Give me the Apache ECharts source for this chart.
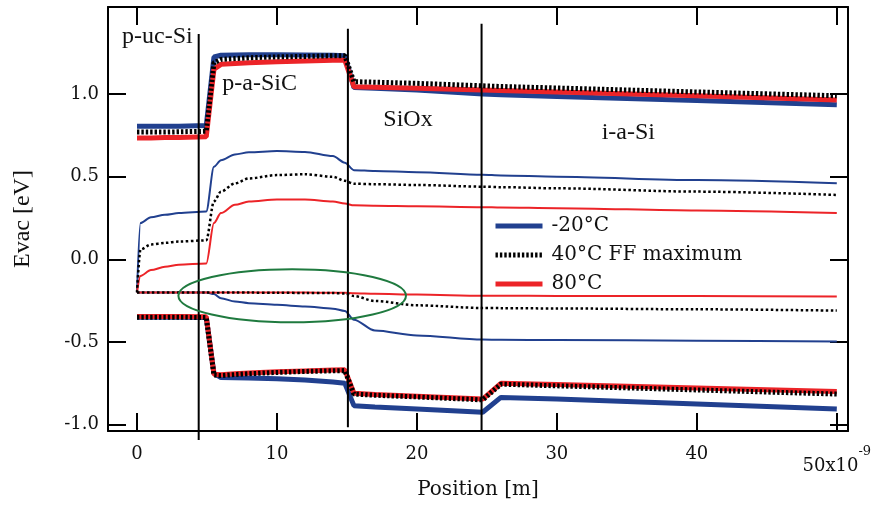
<!DOCTYPE html>
<html>
<head>
<meta charset="utf-8">
<script src="https://cdn.jsdelivr.net/npm/echarts@6/dist/echarts.min.js"></script>
<style>
  html, body { margin: 0; background: #fff; }
  #chart { width: 875px; height: 505px; }
</style>
</head>
<body>
<div id="chart"></div>
<script>
// position along the stack, in units of 1e-9 m
const positions = [0, 0.25, 1, 2, 3, 4.95, 5.5, 6, 7, 8, 10, 12, 14, 14.85, 15.5, 17, 20, 24.7, 26, 30, 40, 50];

// -20°C
const coldTop = [0.805, 0.805, 0.805, 0.805, 0.805, 0.81, 1.225, 1.235, 1.237, 1.238, 1.238, 1.237, 1.235, 1.232, 1.04, 1.035, 1.025, 1.0, 0.996, 0.986, 0.962, 0.935];
const coldMid = [-0.2, 0.22, 0.255, 0.27, 0.28, 0.29, 0.56, 0.6, 0.635, 0.648, 0.655, 0.65, 0.625, 0.585, 0.54, 0.535, 0.527, 0.512, 0.508, 0.5, 0.48, 0.46];
const coldLow = [-0.2, -0.2, -0.2, -0.2, -0.2, -0.2, -0.21, -0.235, -0.255, -0.265, -0.275, -0.285, -0.298, -0.312, -0.365, -0.43, -0.46, -0.485, -0.487, -0.488, -0.492, -0.497];
const coldBottom = [-0.35, -0.35, -0.35, -0.35, -0.35, -0.352, -0.69, -0.715, -0.716, -0.717, -0.722, -0.73, -0.742, -0.75, -0.885, -0.893, -0.905, -0.925, -0.835, -0.845, -0.875, -0.905];

// 40°C (FF maximum)
const ffTop = [0.77, 0.77, 0.77, 0.77, 0.772, 0.775, 1.19, 1.21, 1.215, 1.22, 1.225, 1.228, 1.232, 1.232, 1.075, 1.072, 1.065, 1.05, 1.046, 1.037, 1.013, 0.99];
const ffMid = [-0.2, 0.06, 0.09, 0.1, 0.108, 0.115, 0.35, 0.41, 0.46, 0.49, 0.51, 0.515, 0.5, 0.475, 0.458, 0.455, 0.45, 0.44, 0.437, 0.43, 0.41, 0.39];
const ffLow = [-0.2, -0.2, -0.2, -0.2, -0.2, -0.2, -0.2, -0.2, -0.2, -0.201, -0.202, -0.203, -0.204, -0.206, -0.222, -0.252, -0.278, -0.294, -0.295, -0.297, -0.302, -0.31];
const ffBottom = [-0.35, -0.35, -0.35, -0.35, -0.35, -0.352, -0.7, -0.703, -0.697, -0.692, -0.684, -0.678, -0.674, -0.673, -0.815, -0.822, -0.832, -0.85, -0.755, -0.765, -0.79, -0.815];

// 80°C
const hotTop = [0.735, 0.735, 0.735, 0.737, 0.738, 0.742, 1.15, 1.18, 1.185, 1.19, 1.195, 1.2, 1.205, 1.205, 1.045, 1.042, 1.036, 1.025, 1.022, 1.013, 0.99, 0.965];
const hotMid = [-0.2, -0.1, -0.065, -0.045, -0.032, -0.025, 0.22, 0.28, 0.33, 0.35, 0.362, 0.362, 0.35, 0.338, 0.327, 0.325, 0.322, 0.316, 0.314, 0.31, 0.296, 0.28];
const hotLow = [-0.2, -0.2, -0.2, -0.2, -0.2, -0.2, -0.2, -0.2, -0.2, -0.2, -0.201, -0.201, -0.202, -0.202, -0.205, -0.208, -0.213, -0.22, -0.22, -0.221, -0.222, -0.225];
const hotBottom = [-0.345, -0.345, -0.345, -0.345, -0.345, -0.347, -0.695, -0.698, -0.692, -0.688, -0.68, -0.675, -0.67, -0.668, -0.81, -0.818, -0.828, -0.845, -0.75, -0.757, -0.778, -0.8];

// layer boundaries (vertical lines) and their extents
const boundaryPos = [4.41, 15.07, 24.62];
const boundaryTop = [1.364, 1.395, 1.425];
const boundaryBottom = [-1.093, -1.015, -1.037];

const regionNames = ['p-uc-Si', 'p-a-SiC', 'SiOx', 'i-a-Si'];
const regionX = [-1.07, 6.1, 17.6, 33.2];
const regionY = [1.35, 1.06, 0.845, 0.765];

const xTicks = [0, 10, 20, 30, 40, 50];
const yTicks = [-1, -0.5, 0, 0.5, 1];

const legendNames = ['-20°C', '40°C FF maximum', '80°C'];

const BLUE = '#21408f';
const RED = '#ec2428';
const BLACK = '#000';

let chart = echarts.init(document.getElementById('chart'));

function pts(ys) {
  return positions.map((x, i) => [x, ys[i]]);
}

function curve(name, ys, color, width, dash, smooth) {
  return {
    name: name,
    type: 'line',
    data: pts(ys),
    symbol: 'none',
    silent: true,
    smooth: smooth || false,
    smoothMonotone: 'x',
    lineStyle: { color: color, width: width, type: dash || 'solid', cap: 'butt' },
    itemStyle: { color: color }
  };
}

let series = [
  curve(legendNames[0], coldTop, BLUE, 5),
  curve(legendNames[0], coldMid, BLUE, 2, null, 0.3),
  curve(legendNames[0], coldLow, BLUE, 2, null, 0.3),
  curve(legendNames[0], coldBottom, BLUE, 5),
  curve(legendNames[2], hotTop, RED, 5),
  curve(legendNames[2], hotMid, RED, 2, null, 0.3),
  curve(legendNames[2], hotLow, RED, 2, null, 0.3),
  curve(legendNames[2], hotBottom, RED, 5),
  curve(legendNames[1], ffTop, BLACK, 5, [2.4, 2]),
  curve(legendNames[1], ffMid, BLACK, 2.5, [2.5, 2.5], 0.3),
  curve(legendNames[1], ffLow, BLACK, 2.5, [2.5, 2.5], 0.3),
  curve(legendNames[1], ffBottom, BLACK, 5, [2.4, 2])
];

boundaryPos.forEach((x, i) => {
  series.push({
    name: 'boundary' + i,
    type: 'line',
    data: [[x, boundaryTop[i]], [x, boundaryBottom[i]]],
    symbol: 'none',
    silent: true,
    clip: false,
    z: 5,
    lineStyle: { color: BLACK, width: 2 }
  });
});

const axisFont = 'DejaVu Serif';
const frame = { show: true, onZero: false, lineStyle: { color: BLACK, width: 2 } };
const tickIn = { show: true, inside: true, length: 18, lineStyle: { color: BLACK, width: 2 } };

let option = {
  animation: false,
  backgroundColor: '#fff',
  grid: { left: 108, right: 27, top: 7, bottom: 73 },
  legend: {
    data: legendNames,
    orient: 'vertical',
    left: 493,
    top: 216,
    padding: 0,
    itemWidth: 47,
    itemHeight: 14,
    itemGap: 9,
    selectedMode: false,
    itemStyle: { opacity: 0 },
    lineStyle: { width: 5 },
    textStyle: { fontFamily: axisFont, fontSize: 20, color: '#111', padding: [0, 0, 0, 4] }
  },
  xAxis: [
    {
      type: 'value', min: -2.07, max: 50.8, position: 'bottom',
      axisLine: frame,
      axisTick: Object.assign({ customValues: xTicks }, tickIn),
      splitLine: { show: false },
      axisLabel: {
        customValues: xTicks,
        margin: 14,
        fontFamily: axisFont, fontSize: 18, color: '#111',
        formatter: v => v === 50 ? '{e|50x10}{s|-9}' : String(v),
        rich: {
          e: { fontFamily: axisFont, fontSize: 18, color: '#111', padding: [12, 0, 0, 0], verticalAlign: 'bottom' },
          s: { fontFamily: axisFont, fontSize: 13, color: '#111', verticalAlign: 'top' }
        }
      },
      name: 'Position [m]', nameLocation: 'middle', nameGap: 48,
      nameTextStyle: { fontFamily: axisFont, fontSize: 20, color: '#111' }
    },
    {
      type: 'value', min: -2.07, max: 50.8, position: 'top',
      axisLine: frame,
      axisTick: Object.assign({ customValues: xTicks }, tickIn),
      axisLabel: { show: false },
      splitLine: { show: false }
    }
  ],
  yAxis: [
    {
      type: 'value', min: -1.039, max: 1.527, position: 'left',
      axisLine: frame,
      axisTick: Object.assign({ customValues: yTicks }, tickIn),
      splitLine: { show: false },
      axisLabel: {
        customValues: yTicks,
        margin: 9,
        fontFamily: axisFont, fontSize: 18, color: '#111',
        formatter: v => v.toFixed(1)
      },
      name: 'Evac [eV]', nameLocation: 'middle', nameGap: 73, nameRotate: 90,
      nameTextStyle: { fontFamily: 'Liberation Serif', fontSize: 24, color: '#111' }
    },
    {
      type: 'value', min: -1.039, max: 1.527, position: 'right',
      axisLine: frame,
      axisTick: Object.assign({ customValues: yTicks }, tickIn),
      axisLabel: { show: false },
      splitLine: { show: false }
    }
  ],
  series: series
};

chart.setOption(option);

// region labels and the highlighted ellipse, placed through the axes
let graphics = regionNames.map((t, i) => {
  let p = chart.convertToPixel({ xAxisIndex: 0, yAxisIndex: 0 }, [regionX[i], regionY[i]]);
  return {
    type: 'text', x: p[0], y: p[1], z: 20,
    style: { text: t, fontFamily: 'Liberation Serif', fontSize: 24, fill: '#111', verticalAlign: 'middle' }
  };
});

const ellipseCenter = [11.09, -0.22];
const ellipseRadius = [8.13, 0.161];
let c = chart.convertToPixel({ xAxisIndex: 0, yAxisIndex: 0 }, ellipseCenter);
let e = chart.convertToPixel({ xAxisIndex: 0, yAxisIndex: 0 },
  [ellipseCenter[0] + ellipseRadius[0], ellipseCenter[1] + ellipseRadius[1]]);
graphics.push({
  type: 'ellipse', z: 20,
  shape: { cx: c[0], cy: c[1], rx: e[0] - c[0], ry: c[1] - e[1] },
  style: { fill: 'none', stroke: '#1f7a3f', lineWidth: 2 }
});

chart.setOption({ graphic: graphics });
</script>
</body>
</html>
